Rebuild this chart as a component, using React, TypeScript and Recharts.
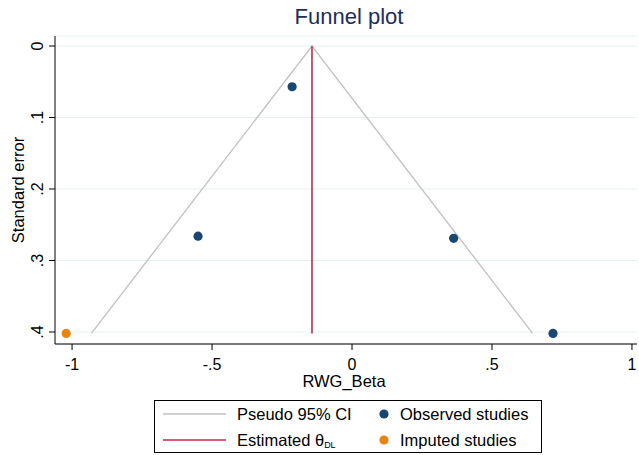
import React from 'react'
import { ComposedChart, Scatter, XAxis, YAxis, CartesianGrid } from 'recharts'

// studies
const observedEffect = [-0.214, -0.55, 0.363, 0.718]
const observedSE = [0.057, 0.266, 0.269, 0.402]
const imputedEffect = [-1.021]
const imputedSE = [0.402]

// pooled estimate and pseudo 95% CI funnel
const thetaDL = -0.143
const funnelEffect = [-0.931, -0.143, 0.645]
const funnelSE = [0.402, 0, 0.402]
const estimateSE = [0, 0.402]

const xTicks = [-1, -0.5, 0, 0.5, 1]
const yTicks = [0, 0.1, 0.2, 0.3, 0.4]

const FONT = '"Liberation Sans", Arial, sans-serif'
const NAVY = '#1a476f'
const ORANGE = '#e8850c'
const RED = '#c8284c'
const GRAY = '#c0c0c0'

const stataNum = (v: number) => {
  if (v === 0) return '0'
  const s = String(v)
  return s.replace(/^(-?)0\./, '$1.')
}

const observed = observedEffect.map((x, i) => ({ x, y: observedSE[i] }))
const imputed = imputedEffect.map((x, i) => ({ x, y: imputedSE[i] }))
const funnel = funnelEffect.map((x, i) => ({ x, y: funnelSE[i] }))
const estimate = estimateSE.map((y) => ({ x: thetaDL, y }))

const XTick = ({ x, y, payload }: any) => (
  <text x={x} y={y + 18} textAnchor="middle" fontSize={16} fontFamily={FONT} fill="#000">
    {stataNum(payload.value)}
  </text>
)

const YTick = ({ x, y, payload }: any) => {
  const cx = x - 9
  return (
    <text
      x={cx}
      y={y}
      textAnchor="middle"
      dominantBaseline="central"
      transform={`rotate(-90, ${cx}, ${y})`}
      fontSize={16}
      fontFamily={FONT}
      fill="#000"
    >
      {stataNum(payload.value)}
    </text>
  )
}

const noShape = () => <g />

export default function App() {
  return (
    <div style={{ position: 'absolute', left: 0, top: 0, width: 639, height: 455, background: '#fff' }}>
      <div
        style={{
          position: 'absolute',
          left: 0,
          width: 698,
          top: 4,
          textAlign: 'center',
          fontFamily: FONT,
          fontSize: 22,
          color: '#1e2d5a',
        }}
      >
        Funnel plot
      </div>
      <ComposedChart width={639} height={455} margin={{ top: 36, right: 2, bottom: 61, left: 0 }}>
        <CartesianGrid vertical={false} stroke="#e6eff1" strokeWidth={1.2} />
        <XAxis
          type="number"
          dataKey="x"
          domain={[-1.061, 1.018]}
          ticks={xTicks}
          height={50}
          tick={<XTick />}
          tickSize={6}
          stroke="#000"
          allowDataOverflow
          label={(p: any) => {
            const vb = p.viewBox
            return (
              <text x={vb.x + vb.width / 2 - 2} y={387} textAnchor="middle" fontSize={16.5} fontFamily={FONT} fill="#000">
                RWG_Beta
              </text>
            )
          }}
        />
        <YAxis
          type="number"
          dataKey="y"
          reversed
          domain={[-0.014, 0.4168]}
          ticks={yTicks}
          width={55}
          tick={<YTick />}
          tickSize={6}
          stroke="#000"
          allowDataOverflow
          label={(p: any) => {
            const vb = p.viewBox
            const cy = vb.y + vb.height / 2
            return (
              <text
                x={18}
                y={cy}
                textAnchor="middle"
                dominantBaseline="central"
                transform={`rotate(-90, 18, ${cy})`}
                fontSize={16.5}
                fontFamily={FONT}
                fill="#000"
              >
                Standard error
              </text>
            )
          }}
        />
        <Scatter
          data={funnel}
          line={{ stroke: GRAY, strokeWidth: 1.3 }}
          lineType="joint"
          shape={noShape}
          isAnimationActive={false}
        />
        <Scatter
          data={estimate}
          line={{ stroke: RED, strokeWidth: 1.6 }}
          lineType="joint"
          shape={noShape}
          isAnimationActive={false}
        />
        <Scatter data={observed} fill={NAVY} shape={(p: any) => <circle cx={p.cx} cy={p.cy} r={4.6} fill={NAVY} />} isAnimationActive={false} />
        <Scatter data={imputed} fill={ORANGE} shape={(p: any) => <circle cx={p.cx} cy={p.cy} r={4.6} fill={ORANGE} />} isAnimationActive={false} />
      </ComposedChart>
      <div
        style={{
          position: 'absolute',
          left: 154,
          top: 400,
          width: 386,
          height: 51,
          border: '1px solid #000',
          fontFamily: FONT,
          fontSize: 16,
          color: '#000',
        }}
      >
        <svg width={386} height={51} style={{ position: 'absolute', left: 0, top: 0 }}>
          <line x1={8} x2={71} y1={13} y2={13} stroke={GRAY} strokeWidth={1.3} />
          <line x1={8} x2={71} y1={39} y2={39} stroke={RED} strokeWidth={1.6} />
          <circle cx={229} cy={13} r={4.6} fill={NAVY} />
          <circle cx={229} cy={39} r={4.6} fill={ORANGE} />
          <text x={82} y={19} fontSize={16.5} fontFamily={FONT}>Pseudo 95% CI</text>
          <text x={82} y={45} fontSize={16.5} fontFamily={FONT}>
            Estimated θ<tspan fontSize={9} dy={2}>DL</tspan>
          </text>
          <text x={245} y={19} fontSize={16.5} fontFamily={FONT}>Observed studies</text>
          <text x={245} y={45} fontSize={16.5} fontFamily={FONT}>Imputed studies</text>
        </svg>
      </div>
    </div>
  )
}
